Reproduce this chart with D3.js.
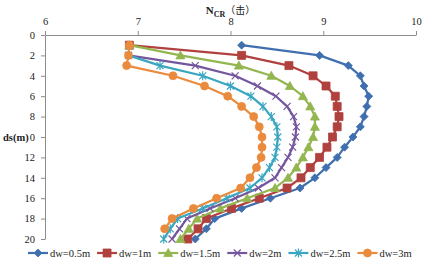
<!DOCTYPE html>
<html>
<head>
<meta charset="utf-8">
<script src="https://cdn.jsdelivr.net/npm/d3@7"></script>
<style>
body { margin: 0; background: #fff; }
text { font-family: "Liberation Serif", "Times New Roman", Times, serif; }
</style>
</head>
<body>
<div id="chart"></div>
<script>
var width = 425,
    height = 261
var margin = {top: 35, right: 9, bottom: 22, left: 45}

// depth ds (m) for each series
var depth_full = [1,2,3,4,5,6,7,8,9,10,11,12,13,14,15,16,17,18,19,20]
var depth_from2 = [2,3,4,5,6,7,8,9,10,11,12,13,14,15,16,17,18,19,20]
var depth_to19 = [1,2,3,4,5,6,7,8,9,10,11,12,13,14,15,16,17,18,19]

// N_CR values
var ncr_dw05 = [8.12,8.96,9.27,9.40,9.44,9.49,9.47,9.44,9.40,9.32,9.23,9.15,9.03,8.91,8.75,8.43,8.12,7.83,7.74,7.62]
var ncr_dw1  = [6.91,8.12,8.63,8.89,9.03,9.13,9.15,9.17,9.15,9.10,9.04,8.96,8.86,8.76,8.61,8.31,8.01,7.74,7.65,7.54]
var ncr_dw15 = [6.91,7.46,8.09,8.44,8.64,8.78,8.86,8.91,8.91,8.89,8.84,8.78,8.71,8.62,8.48,8.18,7.89,7.64,7.55,7.46]
var ncr_dw2  = [6.90,7.62,8.05,8.29,8.49,8.61,8.68,8.71,8.70,8.67,8.62,8.55,8.48,8.30,8.05,7.78,7.53,7.45,7.37]
var ncr_dw25 = [6.90,7.24,7.70,8.00,8.22,8.35,8.44,8.50,8.51,8.50,8.48,8.42,8.34,8.21,7.96,7.70,7.43,7.35,7.28]
var ncr_dw3  = [6.91,6.90,6.88,7.38,7.72,7.97,8.12,8.25,8.31,8.34,8.34,8.33,8.28,8.21,8.11,7.85,7.60,7.37,7.29]

var series_names = ["dw=0.5m","dw=1m","dw=1.5m","dw=2m","dw=2.5m","dw=3m"]
var x_ticks = [6,7,8,9,10]
var y_ticks = [0,2,4,6,8,10,12,14,16,18,20]

var colors = ["#3f6fae","#b0413e","#93b650","#74569e","#3aa6c0","#ea8a3c"]
var shapes = ["diamond","square","triangle","x","star","circle"]

var series = [
  {name: series_names[0], d: depth_full,  v: ncr_dw05},
  {name: series_names[1], d: depth_full,  v: ncr_dw1},
  {name: series_names[2], d: depth_full,  v: ncr_dw15},
  {name: series_names[3], d: depth_from2, v: ncr_dw2},
  {name: series_names[4], d: depth_from2, v: ncr_dw25},
  {name: series_names[5], d: depth_to19,  v: ncr_dw3}
]

var serif = '"Liberation Serif", "Times New Roman", serif'

var svg = d3.select("#chart").append("svg")
    .attr("width", width)
    .attr("height", height)

var x = d3.scaleLinear().domain([6, 10]).range([margin.left, width - margin.right])
var y = d3.scaleLinear().domain([0, 20]).range([margin.top, height - margin.bottom])

// axes
svg.append("g")
    .attr("transform", "translate(0," + margin.top + ")")
    .call(d3.axisTop(x).tickValues(x_ticks).tickFormat(d3.format("d")).tickSize(4).tickSizeOuter(0).tickPadding(6))
svg.append("g")
    .attr("transform", "translate(" + margin.left + ",0)")
    .call(d3.axisLeft(y).tickValues(y_ticks).tickFormat(d3.format("d")).tickSize(4).tickSizeOuter(0).tickPadding(6))

svg.selectAll(".domain, .tick line").attr("stroke", "#8c8c8c").attr("stroke-width", 1)
svg.selectAll(".tick text")
    .style("font-family", serif)
    .attr("font-size", 10.5)
    .attr("fill", "#222")

// marker drawing
function markerPath(shape) {
  if (shape == "diamond") return "M0,-4L4,0L0,4L-4,0Z"
  if (shape == "square") return "M-4,-4H4V4H-4Z"
  if (shape == "triangle") return "M0,-4.5L4.5,3.5H-4.5Z"
  if (shape == "circle") return d3.symbol().type(d3.symbolCircle).size(50)()
  if (shape == "x") return "M-3.5,-3.5L3.5,3.5M-3.5,3.5L3.5,-3.5"
  if (shape == "star") return "M-3.5,-3.5L3.5,3.5M-3.5,3.5L3.5,-3.5M0,-4.5V4.5"
}
function addMarker(g, shape, color, cx, cy) {
  var open = (shape == "x" || shape == "star")
  g.append("path")
    .attr("d", markerPath(shape))
    .attr("transform", "translate(" + cx + "," + cy + ")")
    .attr("fill", open ? "none" : color)
    .attr("stroke", color)
    .attr("stroke-width", open ? 1.2 : 0.8)
}

var line = d3.line()
    .x(function(d) { return x(d[0]) })
    .y(function(d) { return y(d[1]) })

series.forEach(function(s, i) {
  var pts = s.d.map(function(dd, j) { return [s.v[j], dd] })
  var g = svg.append("g")
  g.append("path")
    .attr("d", line(pts))
    .attr("fill", "none")
    .attr("stroke", colors[i])
    .attr("stroke-width", 2.2)
    .attr("stroke-linejoin", "round")
  pts.forEach(function(p) {
    addMarker(g, shapes[i], colors[i], x(p[0]), y(p[1]))
  })
})

// title
var title = svg.append("text")
    .attr("x", (margin.left + width - margin.right) / 2)
    .attr("y", 14)
    .attr("text-anchor", "middle")
    .style("font-family", serif)
    .attr("font-weight", "bold")
    .attr("font-size", 11)
    .attr("fill", "#222")
title.append("tspan").text("N")
title.append("tspan").attr("font-size", 8).attr("dy", 3).text("CR")
title.append("tspan").attr("dy", -3).style("font-family", '"Noto Sans CJK SC"').attr("font-weight", "normal").attr("font-size", 10).text("（击）")

// y label with white box behind (covers the tick label as in the original)
var ylab = svg.append("g")
var ylabText = ylab.append("text")
    .attr("x", 3)
    .attr("y", y(10) + 4)
    .style("font-family", serif)
    .attr("font-weight", "bold")
    .attr("font-size", 10.5)
    .attr("fill", "#222")
    .text("ds(m)")
var bb = ylabText.node().getBBox()
ylab.insert("rect", "text")
    .attr("x", bb.x - 1).attr("y", bb.y)
    .attr("width", bb.width + 1).attr("height", bb.height)
    .attr("fill", "#fff")

// legend: line sample + marker + label, packed left to right
var legY = 253
var legX = 28
series.forEach(function(s, i) {
  var g = svg.append("g")
  g.append("line")
    .attr("x1", legX).attr("x2", legX + 20)
    .attr("y1", legY).attr("y2", legY)
    .attr("stroke", colors[i]).attr("stroke-width", 2.2)
  addMarker(g, shapes[i], colors[i], legX + 10, legY)
  var t = g.append("text")
    .attr("x", legX + 22)
    .attr("y", legY + 4)
    .style("font-family", serif)
    .attr("font-size", 10.5)
    .attr("fill", "#222")
    .text(s.name)
  legX += 22 + t.node().getComputedTextLength() + 7
})
</script>
</body>
</html>
